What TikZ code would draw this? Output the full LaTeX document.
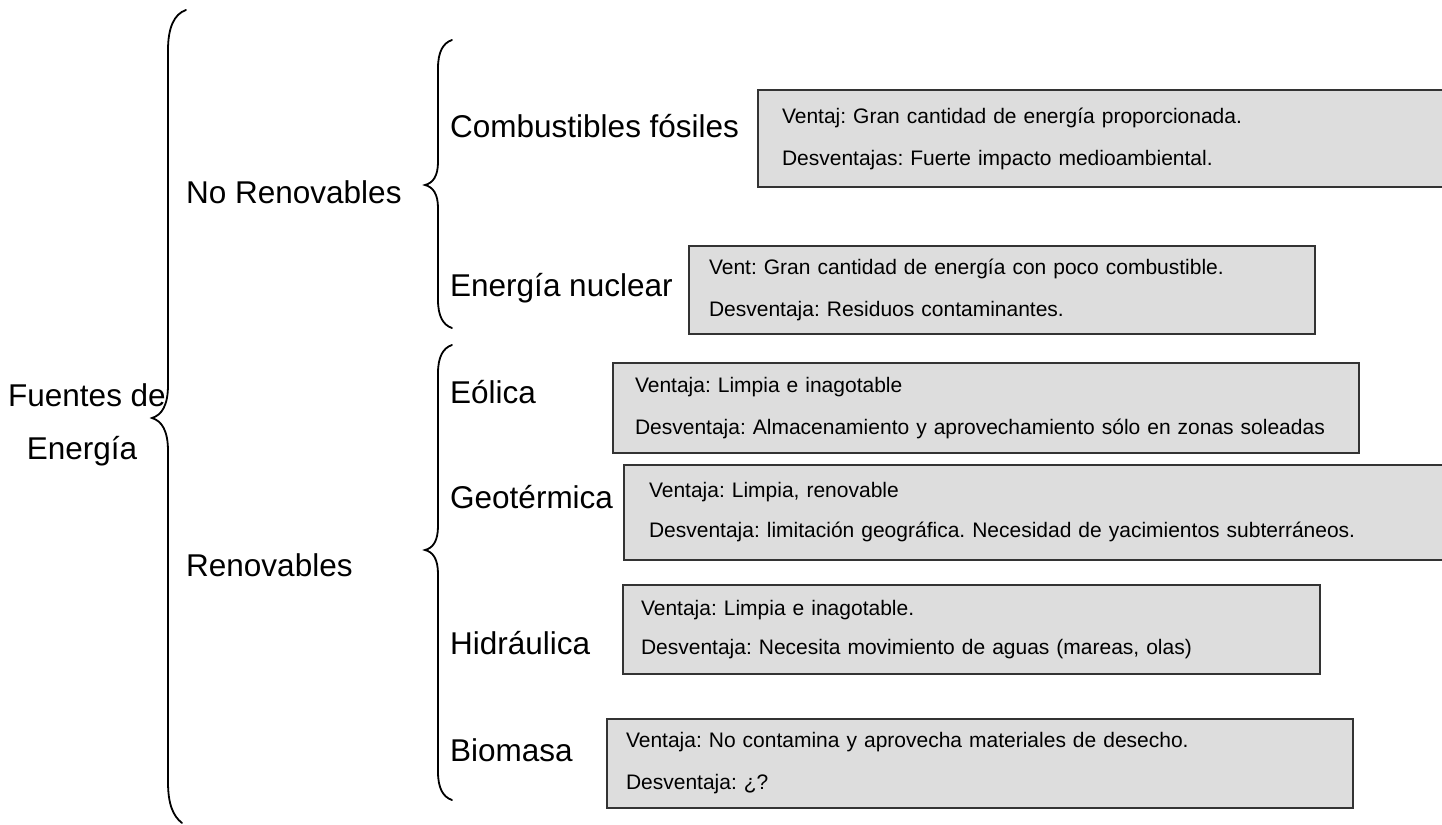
\documentclass[tikz,border=0pt]{standalone}
\usepackage{fontspec}
\setmainfont{Liberation Sans}
\definecolor{boxgray}{HTML}{DDDDDD}
\definecolor{boxline}{HTML}{333333}
\begin{document}
\frenchspacing
\begin{tikzpicture}[x=1pt,y=-1pt,
  infobox/.style={draw=boxline, line width=2pt, fill=boxgray, anchor=north west, align=left, inner ysep=0pt, font=\fontsize{21}{42}\selectfont\frenchspacing},
  biglabel/.style={anchor=base west, inner sep=0pt, font=\fontsize{31.5}{38}\selectfont},
  centerlabel/.style={anchor=base, inner sep=0pt, font=\fontsize{31.5}{38}\selectfont},
  bracestyle/.style={line width=1.8pt, line cap=round}]
\useasboundingbox (0,0) rectangle (1442,824);
\clip (0,0) rectangle (1442,824);

% braces
\draw[bracestyle] (186,10) .. controls (174,14) and (168,28) .. (168,50) -- (168,385)
  .. controls (168,405) and (162,415) .. (152,418)
  .. controls (162,421) and (168,431) .. (168,451) -- (168,782)
  .. controls (168,804) and (173,816) .. (182,823);
\draw[bracestyle] (452,40) .. controls (443,43) and (438,52) .. (438,68) -- (438,162)
  .. controls (438,176) and (433,183) .. (425,185)
  .. controls (433,187) and (438,194) .. (438,208) -- (438,300)
  .. controls (438,316) and (443,325) .. (452,328);
\draw[bracestyle] (452,345) .. controls (443,348) and (438,357) .. (438,373) -- (438,526)
  .. controls (438,541) and (433,548) .. (425,550)
  .. controls (433,552) and (438,559) .. (438,574) -- (438,772)
  .. controls (438,788) and (443,797) .. (452,800);

% labels
\node[centerlabel] (fuentes1) at (87,406) {Fuentes de};
\node[centerlabel] (fuentes2) at (82,459) {Energía};
\node[biglabel] (norenov) at (186,203) {No Renovables};
\node[biglabel] (renov) at (186,576) {Renovables};
\node[biglabel] (comb) at (450,137) {Combustibles fósiles};
\node[biglabel] (nuc) at (450,296) {Energía nuclear};
\node[biglabel] (eol) at (450,403) {Eólica};
\node[biglabel] (geo) at (450,508) {Geotérmica};
\node[biglabel] (hid) at (450,654) {Hidráulica};
\node[biglabel] (bio) at (450,761) {Biomasa};

% boxes
\node[infobox, inner xsep=24pt, text width=645pt, minimum height=97pt] (b1) at (757,89)
  {\mbox{Ventaj: Gran cantidad de energía proporcionada.}\\\mbox{Desventajas: Fuerte impacto medioambiental.}};
\node[infobox, inner xsep=20pt, text width=586pt, minimum height=88pt] (b2) at (688,245)
  {\mbox{Vent: Gran cantidad de energía con poco combustible.}\\\mbox{Desventaja: Residuos contaminantes.}};
\node[infobox, inner xsep=22pt, text width=702pt, minimum height=90pt] (b3) at (612,362)
  {\mbox{Ventaja: Limpia e inagotable}\\\mbox{Desventaja: Almacenamiento y aprovechamiento sólo en zonas soleadas}};
\node[infobox, inner xsep=25pt, text width=777pt, minimum height=95pt, font=\fontsize{21}{40}\selectfont\frenchspacing] (b4) at (623,464)
  {\mbox{Ventaja: Limpia, renovable}\\\mbox{Desventaja: limitación geográfica. Necesidad de yacimientos subterráneos.}};
\node[infobox, inner xsep=18pt, text width=661pt, minimum height=89pt, font=\fontsize{21}{39}\selectfont\frenchspacing] (b5) at (622,584)
  {\mbox{Ventaja: Limpia e inagotable.}\\\mbox{Desventaja: Necesita movimiento de aguas (mareas, olas)}};
\node[infobox, inner xsep=19pt, text width=708pt, minimum height=89pt] (b6) at (606,718)
  {\mbox{Ventaja: No contamina y aprovecha materiales de desecho.}\\\mbox{Desventaja: ¿?}};
\end{tikzpicture}
\end{document}
